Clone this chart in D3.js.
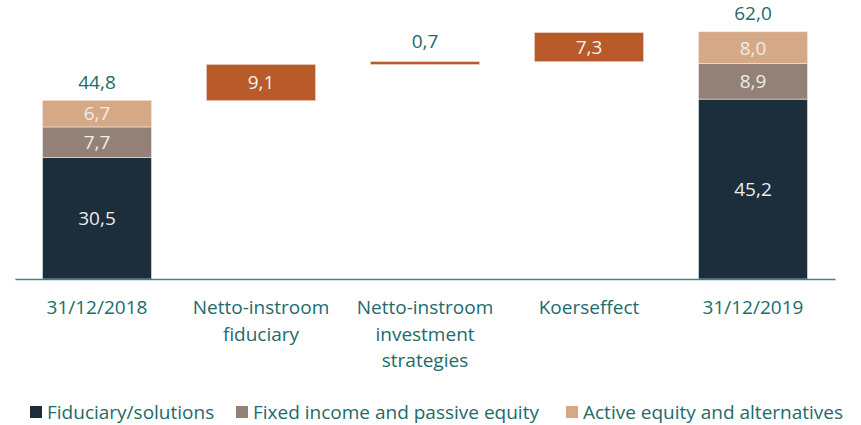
<!DOCTYPE html>
<html><head><meta charset="utf-8">
<script src="https://cdn.jsdelivr.net/npm/d3@7"></script>
<style>
body{margin:0;background:#fff;}
svg{display:block;font-family:"Open Sans",sans-serif;}
</style></head>
<body><svg id="c" width="861" height="425"></svg>
<script>
const categories = ["31/12/2018", "Netto-instroom fiduciary", "Netto-instroom investment strategies", "Koerseffect", "31/12/2019"];
const categoryLines = [["31/12/2018"], ["Netto-instroom", "fiduciary"], ["Netto-instroom", "investment", "strategies"], ["Koerseffect"], ["31/12/2019"]];
const seriesNames = ["Fiduciary/solutions", "Fixed income and passive equity", "Active equity and alternatives"];
const start2018 = [30.5, 7.7, 6.7];
const end2019 = [45.2, 8.9, 8.0];
const total2018 = 44.8;
const total2019 = 62.0;
const deltas = [9.1, 0.7, 7.3];
const colors = ["#1c2d3b", "#938177", "#d5a886"];
const deltaColor = "#b85a2a";
const textColor = "#216b6c";

const svg = d3.select("#c");
const x = d3.scaleBand().domain(categories).range([15, 835]).paddingInner(0.335).paddingOuter(0.1675);
const y = d3.scaleLinear().domain([0, 62]).range([279, 32.2]);
const fmt = v => d3.format(".1f")(v).replace(".", ",");
const FS = 19;
const LABEL_OFF = 18.5;

function stack(cat, vals, total) {
  let acc = 0;
  const g = svg.append("g");
  vals.forEach((v, i) => {
    const y0 = acc, y1 = acc + v; acc = y1;
    g.append("rect").attr("x", x(cat)).attr("width", x.bandwidth())
      .attr("y", y(y1)).attr("height", y(y0) - y(y1))
      .attr("fill", colors[i]).attr("stroke", "#f2ece8").attr("stroke-width", 0.6);
    g.append("text").attr("x", x(cat) + x.bandwidth() / 2).attr("y", (y(y0) + y(y1)) / 2)
      .attr("dy", "0.36em").attr("text-anchor", "middle").attr("font-size", FS)
      .attr("fill", "#ececec").text(fmt(v));
  });
  g.append("text").attr("x", x(cat) + x.bandwidth() / 2).attr("y", y(acc) - LABEL_OFF)
    .attr("dy", "0.36em").attr("text-anchor", "middle").attr("font-size", FS)
    .attr("fill", textColor).text(fmt(total));
}
stack(categories[0], start2018, total2018);
stack(categories[4], end2019, total2019);

let base = total2018;
deltas.forEach((d, i) => {
  const cat = categories[i + 1];
  const y0 = base, y1 = base + d; base = y1;
  const h = y(y0) - y(y1);
  svg.append("rect").attr("x", x(cat)).attr("width", x.bandwidth())
    .attr("y", y(y1)).attr("height", h)
    .attr("fill", deltaColor).attr("stroke", "#f0d6c8").attr("stroke-width", 0.6);
  const cx = x(cat) + x.bandwidth() / 2;
  if (h > 20) {
    svg.append("text").attr("x", cx).attr("y", (y(y0) + y(y1)) / 2)
      .attr("dy", "0.36em").attr("text-anchor", "middle").attr("font-size", FS)
      .attr("fill", "#f2f2f2").text(fmt(d));
  } else {
    svg.append("text").attr("x", cx).attr("y", y(y1) - LABEL_OFF - 2)
      .attr("dy", "0.36em").attr("text-anchor", "middle").attr("font-size", FS)
      .attr("fill", textColor).text(fmt(d));
  }
});

const axis = svg.append("g").attr("transform", "translate(0,279)")
  .call(d3.axisBottom(x).tickSize(0).tickFormat(""));
axis.select(".domain").attr("stroke", "#3d8486").attr("stroke-width", 1.5);
categories.forEach((c, i) => {
  const t = svg.append("text").attr("text-anchor", "middle").attr("font-size", FS).attr("fill", textColor);
  categoryLines[i].forEach((line, j) => {
    t.append("tspan").attr("x", x(c) + x.bandwidth() / 2).attr("y", 314 + j * 26.5).text(line);
  });
});

const legendX = [30, 236, 566];
seriesNames.forEach((n, i) => {
  svg.append("rect").attr("x", legendX[i]).attr("y", 406).attr("width", 12).attr("height", 12).attr("fill", colors[i]);
  svg.append("text").attr("x", legendX[i] + 17).attr("y", 418.5).attr("font-size", FS)
    .attr("fill", textColor).text(n);
});
</script></body></html>
